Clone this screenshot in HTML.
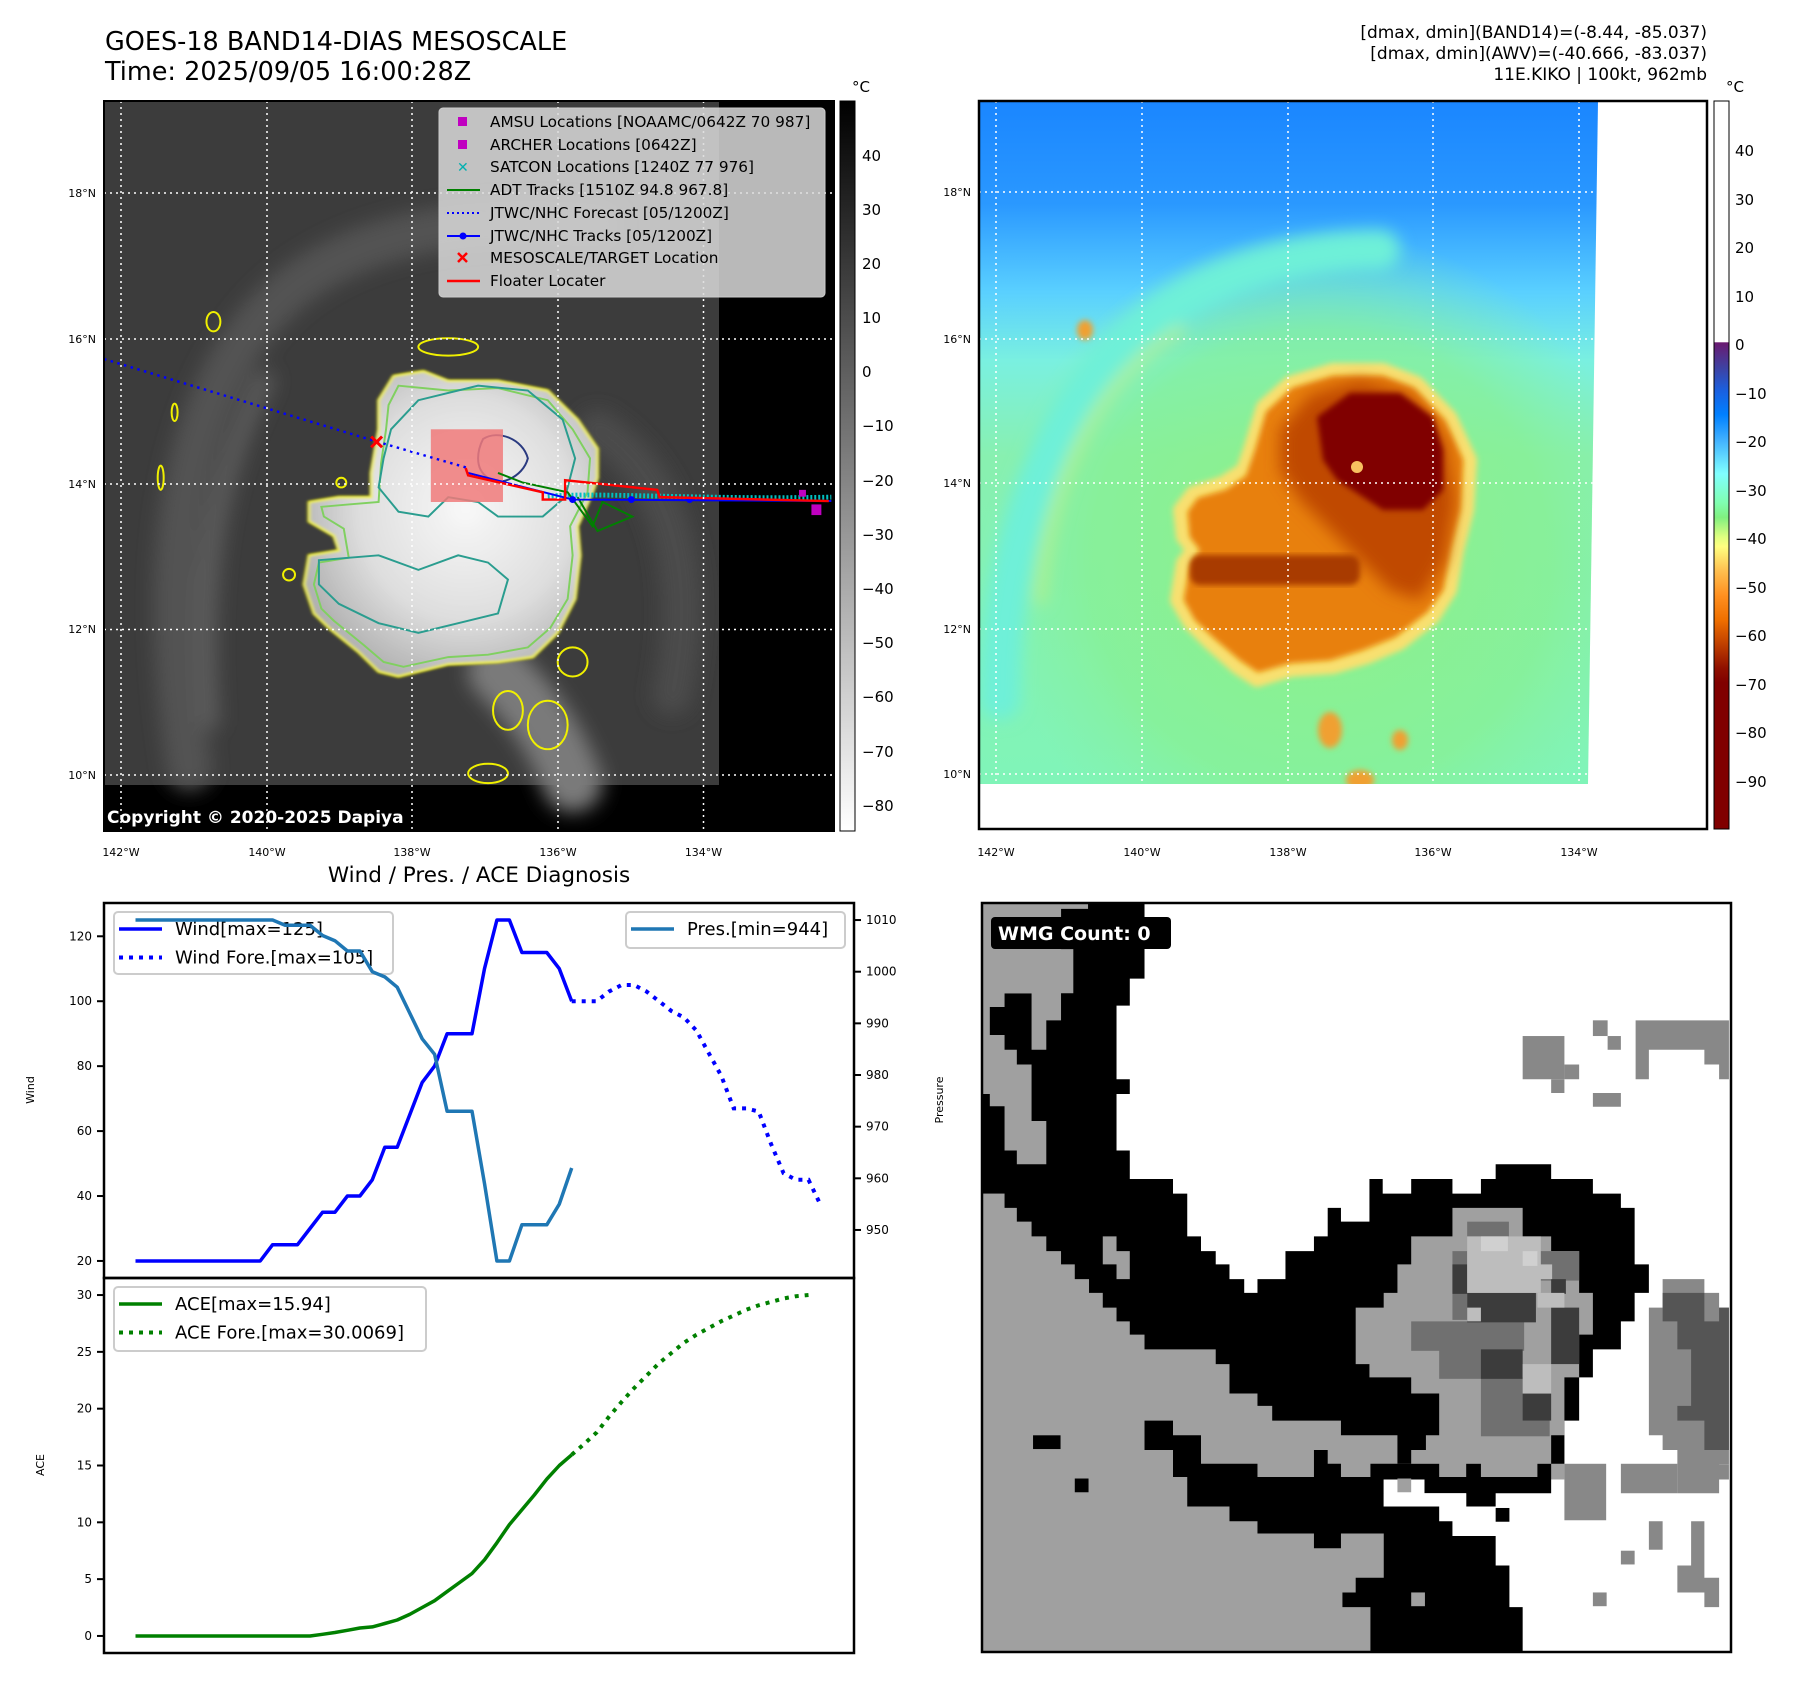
<!DOCTYPE html>
<html><head><meta charset="utf-8"><style>
html,body{margin:0;padding:0;background:#fff;}
svg text{font-family:"DejaVu Sans","Liberation Sans",sans-serif;}
</style></head><body>
<svg id="root" xmlns="http://www.w3.org/2000/svg" width="1797" height="1690" viewBox="0 0 1797 1690">
<defs>
<filter id="blur3"><feGaussianBlur stdDeviation="3"/></filter>
<filter id="blur8"><feGaussianBlur stdDeviation="8"/></filter>
<filter id="blur20"><feGaussianBlur stdDeviation="20"/></filter>
<radialGradient id="cloudG" cx="0.55" cy="0.45" r="0.6"><stop offset="0" stop-color="#f8f8f8"/><stop offset="0.6" stop-color="#dedede"/><stop offset="1" stop-color="#b0b0b0"/></radialGradient>
<linearGradient id="grayBar" x1="0" y1="0" x2="0" y2="1"><stop offset="0" stop-color="#000"/><stop offset="1" stop-color="#fff"/></linearGradient>
<linearGradient id="jetBar" x1="0" y1="0" x2="0" y2="1">
<stop offset="0" stop-color="#fff"/><stop offset="0.331" stop-color="#fff"/>
<stop offset="0.332" stop-color="#6a1a70"/><stop offset="0.365" stop-color="#4040a0"/>
<stop offset="0.398" stop-color="#1a60e0"/><stop offset="0.431" stop-color="#0080ff"/>
<stop offset="0.465" stop-color="#40b0ff"/><stop offset="0.512" stop-color="#80ffff"/>
<stop offset="0.552" stop-color="#80ffb0"/><stop offset="0.572" stop-color="#80f080"/>
<stop offset="0.599" stop-color="#e0ff80"/><stop offset="0.612" stop-color="#ffff80"/>
<stop offset="0.645" stop-color="#ffc050"/><stop offset="0.679" stop-color="#ff9020"/>
<stop offset="0.712" stop-color="#f07000"/><stop offset="0.746" stop-color="#c04000"/>
<stop offset="0.779" stop-color="#901000"/><stop offset="0.799" stop-color="#800000"/>
<stop offset="1" stop-color="#800000"/></linearGradient>
<linearGradient id="rbg" x1="0" y1="0" x2="0" y2="1">
<stop offset="0" stop-color="#1a86ff"/><stop offset="0.15" stop-color="#2a98ff"/>
<stop offset="0.28" stop-color="#5ad0ff"/><stop offset="0.38" stop-color="#7af0e0"/>
<stop offset="0.52" stop-color="#88f0b0"/><stop offset="1" stop-color="#80f4b8"/></linearGradient>
<radialGradient id="greenHalo" cx="0.5" cy="0.5" r="0.5"><stop offset="0" stop-color="#90f080" stop-opacity="1"/><stop offset="0.7" stop-color="#88f090" stop-opacity="0.8"/><stop offset="1" stop-color="#88f0a0" stop-opacity="0"/></radialGradient>
<clipPath id="clipL"><rect x="104" y="101" width="730" height="730"/></clipPath>
<clipPath id="clipR"><polygon points="979,101 1598,101 1588,784 979,784"/></clipPath>
</defs>

<text x="105" y="50" font-size="25.5">GOES-18 BAND14-DIAS MESOSCALE</text>
<text x="105" y="80" font-size="25.5">Time: 2025/09/05 16:00:28Z</text>
<g font-size="17" text-anchor="end">
<text x="1707" y="38">[dmax, dmin](BAND14)=(-8.44, -85.037)</text>
<text x="1707" y="59">[dmax, dmin](AWV)=(-40.666, -83.037)</text>
<text x="1707" y="80">11E.KIKO | 100kt, 962mb</text>
</g>

<g clip-path="url(#clipL)">
<rect x="104" y="101" width="730" height="730" fill="#000"/>
<rect x="104" y="101" width="615" height="684" fill="#3c3c3c"/>
<g transform="translate(100,90) scale(0.4975,0.4847)">
<g filter="url(#blur20)" fill="none" stroke-linecap="round">
<path d="M180,1400 C120,1000 160,700 300,500 C420,330 650,250 1000,280" stroke="#525252" stroke-width="90"/>
<path d="M220,1300 C200,1000 230,800 330,600" stroke="#5c5c5c" stroke-width="40"/>
<path d="M800,1200 C880,1280 920,1350 950,1430" stroke="#7a7a7a" stroke-width="120"/>
<path d="M1000,700 C1150,800 1200,1000 1150,1250" stroke="#4c4c4c" stroke-width="80"/>
</g>
<path id="stormShape" d="M590,590 L650,580 700,600 800,600 900,620 960,680 1000,740 1000,800 990,830 960,900 965,960 955,1050 920,1120 870,1170 800,1180 700,1185 600,1210 560,1200 520,1160 460,1110 430,1080 410,1020 420,960 480,950 470,920 420,890 420,850 480,840 545,840 545,790 560,700 560,640 Z" fill="url(#cloudG)" filter="url(#blur3)"/>
<use href="#stormShape" fill="none" stroke="#f0f000" stroke-width="5" filter="none"/>
<path d="M600,610 L700,620 800,615 900,640 950,700 985,760 980,830 945,900 950,960 940,1050 905,1110 860,1150 780,1165 700,1170 610,1190 570,1180 530,1145 470,1095 445,1070 430,1020 440,975 500,965 490,905 450,880 445,860 500,855 560,850 565,770 575,700 580,650 Z" fill="none" stroke="#80d060" stroke-width="4"/>
<path d="M585,700 L640,640 760,610 860,620 930,680 955,760 935,840 890,880 800,880 760,850 700,840 660,880 600,870 560,820 570,760 Z" fill="none" stroke="#2a9d8f" stroke-width="4"/>
<path d="M440,970 L560,960 640,990 720,960 780,975 820,1010 800,1080 720,1100 640,1120 560,1100 480,1060 440,1020 Z" fill="none" stroke="#2a9d8f" stroke-width="4"/>
<path d="M770,720 C800,700 850,720 860,760 C850,800 800,820 780,800 C750,780 760,740 770,720 Z" fill="none" stroke="#2a3a80" stroke-width="4"/>
<g fill="none" stroke="#f0f000" stroke-width="4">
<ellipse cx="228" cy="478" rx="14" ry="20"/><ellipse cx="150" cy="665" rx="6" ry="18"/>
<ellipse cx="122" cy="800" rx="6" ry="25"/><ellipse cx="700" cy="530" rx="60" ry="18"/>
<ellipse cx="820" cy="1280" rx="30" ry="40"/><ellipse cx="900" cy="1310" rx="40" ry="50"/>
<ellipse cx="780" cy="1410" rx="40" ry="20"/><ellipse cx="950" cy="1180" rx="30" ry="30"/>
<ellipse cx="380" cy="1000" rx="12" ry="12"/><ellipse cx="485" cy="810" rx="10" ry="10"/>
</g>
<rect x="665" y="700" width="145" height="150" fill="#f07a7a" opacity="0.85"/>
<path d="M8,555 L555,725 L740,780" fill="none" stroke="#0000ff" stroke-width="5" stroke-dasharray="5 9"/>
<path d="M900,838 C1000,830 1200,845 1470,840" fill="none" stroke="#00c0c0" stroke-width="10" stroke-dasharray="4 4"/>
<path d="M800,790 L850,810 940,830 990,900 1010,850 1070,880 1000,910 960,840" fill="none" stroke="#008000" stroke-width="4"/>
<path d="M740,790 L950,845 1470,848" fill="none" stroke="#0000ff" stroke-width="4"/>
<g fill="#0000ff"><circle cx="950" cy="845" r="7"/><circle cx="1068" cy="845" r="7"/><circle cx="1185" cy="845" r="7"/></g>
<path d="M735,780 L740,795 890,830 890,845 935,845 935,805 1120,825 1125,840 1465,848" fill="none" stroke="#ff0000" stroke-width="5"/>
<rect x="1430" y="855" width="20" height="22" fill="#c000c0"/><rect x="1405" y="825" width="14" height="14" fill="#c000c0"/>
<path d="M545,715 L567,737 M567,715 L545,737" stroke="#ff0000" stroke-width="6"/>
</g>
<g stroke="#fff" stroke-width="1.5" stroke-dasharray="2 4">
<line x1="121" y1="101" x2="121" y2="831"/><line x1="267" y1="101" x2="267" y2="831"/><line x1="412" y1="101" x2="412" y2="831"/><line x1="558" y1="101" x2="558" y2="831"/><line x1="703.5" y1="101" x2="703.5" y2="831"/>
<line x1="104" y1="193" x2="834" y2="193"/><line x1="104" y1="339" x2="834" y2="339"/><line x1="104" y1="484" x2="834" y2="484"/><line x1="104" y1="629.5" x2="834" y2="629.5"/><line x1="104" y1="775" x2="834" y2="775"/>
</g>
<text x="107" y="823" font-size="17" font-weight="bold" fill="#fff">Copyright © 2020-2025 Dapiya</text>
</g>
<rect x="104" y="101" width="730" height="730" fill="none" stroke="#000" stroke-width="2"/>
<g>
<rect x="439" y="108" width="386" height="189" rx="4" fill="#d9d9d9" fill-opacity="0.85" stroke="#ccc"/>
<g font-size="15.3">
<rect x="458" y="117" width="9" height="9" fill="#c000c0"/><text x="490" y="127">AMSU Locations [NOAAMC/0642Z 70 987]</text>
<rect x="458" y="140" width="9" height="9" fill="#c000c0"/><text x="490" y="150">ARCHER Locations [0642Z]</text>
<text x="457" y="172" fill="#00b0b0" font-size="14">✕</text><text x="490" y="172">SATCON Locations [1240Z 77 976]</text>
<line x1="447" y1="190" x2="480" y2="190" stroke="#008000" stroke-width="2"/><text x="490" y="195">ADT Tracks [1510Z 94.8 967.8]</text>
<line x1="447" y1="213" x2="480" y2="213" stroke="#0000ff" stroke-width="2" stroke-dasharray="2 3"/><text x="490" y="218">JTWC/NHC Forecast [05/1200Z]</text>
<line x1="447" y1="236" x2="480" y2="236" stroke="#0000ff" stroke-width="2"/><circle cx="463" cy="236" r="3.5" fill="#0000ff"/><text x="490" y="241">JTWC/NHC Tracks [05/1200Z]</text>
<path d="M458,253 L467,262 M467,253 L458,262" stroke="#ff0000" stroke-width="2.5"/><text x="490" y="263">MESOSCALE/TARGET Location</text>
<line x1="447" y1="281" x2="480" y2="281" stroke="#ff0000" stroke-width="2.5"/><text x="490" y="286">Floater Locater</text>
</g></g>
<rect x="840" y="101" width="15" height="730" fill="url(#grayBar)" stroke="#000" stroke-width="1"/>
<text x="852" y="92" font-size="15">°C</text>
<g font-size="15">
<text x="862" y="161">40</text><text x="862" y="215">30</text><text x="862" y="269">20</text><text x="862" y="323">10</text><text x="862" y="377">0</text>
<text x="862" y="431">−10</text><text x="862" y="486">−20</text><text x="862" y="540">−30</text><text x="862" y="594">−40</text><text x="862" y="648">−50</text><text x="862" y="702">−60</text><text x="862" y="757">−70</text><text x="862" y="811">−80</text>
</g>
<g font-size="11" text-anchor="middle">
<text x="121" y="856">142°W</text><text x="267" y="856">140°W</text><text x="412" y="856">138°W</text><text x="558" y="856">136°W</text><text x="703.5" y="856">134°W</text>
</g>
<g font-size="11" text-anchor="end">
<text x="96" y="197">18°N</text><text x="96" y="343">16°N</text><text x="96" y="488">14°N</text><text x="96" y="633">12°N</text><text x="96" y="779">10°N</text>
</g>

<g>
<rect x="979" y="101" width="728" height="728" fill="#fff"/>
<g clip-path="url(#clipR)">
<rect x="979" y="101" width="620" height="684" fill="url(#rbg)"/>
<ellipse cx="1320" cy="560" rx="330" ry="330" fill="url(#greenHalo)" opacity="0.85"/>
<g filter="url(#blur8)" fill="none" stroke-linecap="round">
<path d="M1000,700 C1000,500 1080,350 1200,290 C1260,260 1330,250 1380,250" stroke="#6ef0d8" stroke-width="40"/>
<path d="M1040,600 C1050,460 1110,370 1180,330" stroke="#c0f080" stroke-width="10" opacity="0.8"/>
</g>
<polygon points="1250,450 1263,407 1290,383 1333,370 1383,370 1417,383 1450,417 1470,460 1467,510 1457,550 1450,590 1433,617 1400,643 1367,657 1333,667 1290,670 1257,680 1237,667 1210,643 1190,623 1177,600 1183,563 1193,550 1183,537 1180,510 1193,493 1223,483 1243,470" fill="#f8d050" stroke="#f8e070" stroke-width="14" stroke-linejoin="round" filter="url(#blur3)"/>
<polygon points="1255,450 1266,412 1292,388 1333,376 1383,376 1414,388 1445,420 1463,460 1460,510 1450,550 1443,590 1427,612 1395,637 1362,650 1330,660 1290,663 1258,672 1240,660 1214,638 1195,620 1184,600 1190,566 1200,550 1190,537 1188,512 1198,498 1226,490 1246,476" fill="#e88010" filter="url(#blur3)"/>
<polygon points="1280,430 1310,395 1360,380 1410,395 1445,440 1455,500 1445,560 1420,600 1390,590 1360,560 1330,530 1300,500 1280,470" fill="#c04a00" filter="url(#blur8)"/>
<polygon points="1317,417 1350,393 1400,393 1433,417 1443,450 1443,490 1423,510 1383,510 1357,493 1337,480 1323,460" fill="#800000" filter="url(#blur3)"/>
<rect x="1190" y="555" width="170" height="30" rx="10" fill="#a83a00" filter="url(#blur3)"/>
<circle cx="1357" cy="467" r="6" fill="#f8c060"/>
<g fill="#f0a030" filter="url(#blur3)"><ellipse cx="1330" cy="730" rx="12" ry="18"/><ellipse cx="1400" cy="740" rx="8" ry="10"/><ellipse cx="1360" cy="780" rx="14" ry="10"/><ellipse cx="1085" cy="330" rx="8" ry="10"/></g>
</g>
<g stroke="#fff" stroke-width="1.5" stroke-dasharray="2 4">
<line x1="996" y1="101" x2="996" y2="784"/><line x1="1142" y1="101" x2="1142" y2="784"/><line x1="1288" y1="101" x2="1288" y2="784"/><line x1="1433" y1="101" x2="1433" y2="784"/><line x1="1579" y1="101" x2="1579" y2="784"/>
<line x1="979" y1="192" x2="1598" y2="192"/><line x1="979" y1="339" x2="1596" y2="339"/><line x1="979" y1="483" x2="1594" y2="483"/><line x1="979" y1="629" x2="1592" y2="629"/><line x1="979" y1="774" x2="1590" y2="774"/>
</g>
</g>
<rect x="979" y="101" width="728" height="728" fill="none" stroke="#000" stroke-width="2.5"/>
<rect x="1714" y="101" width="15" height="728" fill="url(#jetBar)" stroke="#000" stroke-width="1"/>
<text x="1726" y="92" font-size="15">°C</text>
<g font-size="15">
<text x="1735" y="156">40</text><text x="1735" y="205">30</text><text x="1735" y="253">20</text><text x="1735" y="302">10</text><text x="1735" y="350">0</text>
<text x="1735" y="399">−10</text><text x="1735" y="447">−20</text><text x="1735" y="496">−30</text><text x="1735" y="544">−40</text><text x="1735" y="593">−50</text><text x="1735" y="641">−60</text><text x="1735" y="690">−70</text><text x="1735" y="738">−80</text><text x="1735" y="787">−90</text>
</g>
<g font-size="11" text-anchor="middle">
<text x="996" y="856">142°W</text><text x="1142" y="856">140°W</text><text x="1288" y="856">138°W</text><text x="1433" y="856">136°W</text><text x="1579" y="856">134°W</text>
</g>
<g font-size="11" text-anchor="end">
<text x="971" y="196">18°N</text><text x="971" y="343">16°N</text><text x="971" y="487">14°N</text><text x="971" y="633">12°N</text><text x="971" y="778">10°N</text>
</g>

<g>
<rect x="982" y="903" width="749" height="749" fill="#fff"/>
<g transform="translate(980,900) scale(0.4911)">
<polygon fill="#a0a0a0" points="5,598 50,598 400,900 600,900 900,1000 1190,1000 1190,1180 822,1180 822,1530 5,1530"/>
<polygon fill="#000" points="165,5 335,5 335,160 305,160 305,215 278,215 278,365 305,365 305,395 278,395 278,510 305,510 305,568 393,568 393,598 422,598 422,685 450,685 450,715 480,715 480,742 508,742 508,772 538,772 538,800 565,800 565,772 622,772 622,715 680,715 680,685 708,685 708,627 735,627 735,655 793,655 793,568 820,568 820,598 878,598 878,568 962,568 962,598 1020,598 1020,568 1050,568 1050,538 1163,538 1163,568 1248,568 1248,598 1305,598 1305,627 1333,627 1333,742 1362,742 1362,800 1333,800 1333,858 1305,858 1305,915 1248,915 1248,972 1220,972 1220,1060 1190,1060 1190,1148 850,1148 850,1090 735,1090 735,1060 595,1060 595,1030 565,1030 565,1005 508,1005 508,945 480,945 480,915 335,915 335,885 305,885 305,858 278,858 278,830 250,830 250,800 222,800 222,772 193,772 193,742 165,742 165,715 135,715 135,685 105,685 105,655 75,655 75,627 50,627 50,598 5,598 5,190 165,190"/>
<polygon fill="#a0a0a0" points="5,5 220,5 220,18 165,18 165,100 190,100 190,190 165,190 165,245 135,245 135,305 105,305 105,190 50,190 50,218 20,218 20,275 50,275 50,305 75,305 75,335 105,335 105,450 135,450 135,538 75,538 75,510 50,510 50,420 20,420 20,395 5,395"/>
<polygon fill="#a0a0a0" points="250,685 278,685 278,715 305,715 305,772 278,772 278,742 250,742"/>
<polygon fill="#000" points="335,1060 393,1060 393,1090 450,1090 450,1148 565,1148 565,1175 680,1175 680,1120 708,1120 708,1148 735,1148 735,1175 795,1175 795,1148 1163,1148 1163,1208 1050,1208 1050,1235 990,1235 990,1208 905,1208 905,1180 822,1180 822,1235 935,1235 935,1265 962,1265 962,1295 1050,1295 1050,1355 1078,1355 1078,1440 1105,1440 1105,1530 795,1530 795,1440 738,1440 738,1410 765,1410 765,1380 822,1380 822,1290 735,1290 735,1320 680,1320 680,1290 565,1290 565,1265 508,1265 508,1235 422,1235 422,1175 393,1175 393,1120 335,1120"/>
<rect x="822" y="1180" width="83" height="28" fill="#fff"/><rect x="822" y="1208" width="168" height="27" fill="#fff"/>
<rect x="108" y="1090" width="56" height="28" fill="#000"/><rect x="193" y="1178" width="28" height="28" fill="#000"/>
<rect x="850" y="1178" width="28" height="28" fill="#a0a0a0"/><rect x="878" y="1410" width="28" height="28" fill="#a0a0a0"/><rect x="1050" y="1238" width="28" height="28" fill="#000"/>
<polygon fill="#a0a0a0" points="962,627 1105,627 1105,685 1163,685 1163,715 1220,715 1220,800 1248,800 1248,885 1220,885 1220,972 1190,972 1190,1090 1163,1090 1163,1148 1135,1148 1135,1175 1020,1175 1020,1148 990,1148 990,1175 935,1175 935,1148 878,1148 878,1120 908,1120 908,1090 935,1090 935,1005 878,1005 878,972 793,972 793,945 765,945 765,830 822,830 822,800 850,800 850,742 878,742 878,685 962,685"/>
<g fill="#707070"><rect x="992" y="655" width="85" height="30"/><rect x="878" y="858" width="230" height="60"/><rect x="935" y="915" width="140" height="60"/><rect x="1020" y="972" width="140" height="120"/><rect x="962" y="715" width="30" height="140"/><rect x="1135" y="715" width="85" height="60"/></g>
<g fill="#3c3c3c"><rect x="962" y="742" width="30" height="60"/><rect x="992" y="800" width="140" height="60"/><rect x="1020" y="915" width="85" height="60"/><rect x="1163" y="830" width="57" height="115"/><rect x="1105" y="1005" width="58" height="55"/><rect x="1163" y="772" width="30" height="30"/></g>
<g fill="#bdbdbd"><rect x="992" y="685" width="150" height="115"/><rect x="1135" y="742" width="30" height="30"/><rect x="1135" y="800" width="55" height="30"/><rect x="1105" y="945" width="58" height="60"/><rect x="992" y="830" width="28" height="28"/></g>
<g fill="#d0d0d0"><rect x="1020" y="685" width="55" height="30"/><rect x="1105" y="715" width="30" height="30"/></g>
<g fill="#888"><rect x="1105" y="277" width="85" height="88"/><rect x="1190" y="335" width="30" height="30"/><rect x="1163" y="365" width="27" height="28"/><rect x="1248" y="245" width="30" height="32"/><rect x="1278" y="277" width="27" height="28"/><rect x="1248" y="393" width="57" height="28"/>
<polygon points="1335,245 1525,245 1525,365 1505,365 1505,335 1475,335 1475,305 1362,305 1362,365 1335,365"/>
<polygon points="1362,830 1390,830 1390,772 1475,772 1475,800 1505,800 1505,830 1525,830 1525,1150 1505,1150 1505,1208 1475,1208 1475,1380 1505,1380 1505,1440 1475,1440 1475,1410 1420,1410 1420,1355 1448,1355 1448,1265 1475,1265 1475,1208 1420,1208 1420,1120 1390,1120 1390,1090 1362,1090"/>
<rect x="1190" y="1148" width="85" height="115"/><rect x="1305" y="1148" width="115" height="60"/><rect x="1362" y="1265" width="28" height="58"/><rect x="1305" y="1325" width="28" height="28"/><rect x="1248" y="1410" width="28" height="28"/><rect x="1475" y="1150" width="50" height="30"/></g>
<g fill="#555"><polygon points="1390,800 1475,800 1475,858 1505,858 1505,830 1525,830 1525,1120 1475,1120 1475,1060 1420,1060 1420,1030 1448,1030 1448,915 1420,915 1420,858 1390,858"/></g>
</g>
<rect x="982" y="903" width="749" height="749" fill="none" stroke="#000" stroke-width="2.5"/>
<rect x="991" y="917" width="180" height="32" rx="4" fill="#000"/>
<text x="998" y="940" font-size="19" font-weight="bold" fill="#fff">WMG Count: 0</text>
</g>

<text x="479" y="882" font-size="21.5" text-anchor="middle">Wind / Pres. / ACE Diagnosis</text>
<g id="chart"></g>
</svg>
<script>
const windObs = [20,20,20,20,20,20,20,20,20,20,20,25,25,25,30,35,35,40,40,45,55,55,65,75,80,90,90,90,110,125,125,115,115,115,110,100];
const windFore = [100,100,100,103,105,105,103,100,97,95,91,84,77,67,67,66,56,47,45,45,37];
const presObs = [1010,1010,1010,1010,1010,1010,1010,1010,1010,1010,1010,1010,1009,1009,1009,1007,1006,1004,1004,1000,999,997,992,987,984,973,973,973,959,944,944,951,951,951,955,962];
const aceObs = [0,0,0,0,0,0,0,0,0,0,0,0,0,0,0,0.15,0.3,0.5,0.7,0.8,1.1,1.4,1.9,2.5,3.1,3.9,4.7,5.5,6.7,8.2,9.8,11.1,12.4,13.8,15.0,15.94];
const aceFore = [15.94,16.9,17.9,19.3,20.6,21.8,22.9,24.0,24.9,25.8,26.5,27.1,27.7,28.2,28.7,29.1,29.4,29.7,29.9,30.0];
const windTicks = [20,40,60,80,100,120];
const presTicks = [950,960,970,980,990,1000,1010];
const aceTicks = [0,5,10,15,20,25,30];
const legendWind = ["Wind[max=125]","Wind Fore.[max=105]"];
const legendPres = ["Pres.[min=944]"];
const legendAce = ["ACE[max=15.94]","ACE Fore.[max=30.0069]"];

const NS="http://www.w3.org/2000/svg";
const chart=document.getElementById('chart');
const AX={l:104,r:854,t1:903,b1:1278,t2:1278,b2:1653};
const X0=-2.53,X1=57.65;
function xs(i){return AX.l+(i-X0)/(X1-X0)*(AX.r-AX.l);}
function yWind(v){const lo=14.75,hi=130.25;return AX.t1+(hi-v)/(hi-lo)*(AX.b1-AX.t1);}
function yPres(p){const lo=940.7,hi=1013.3;return AX.t1+(hi-p)/(hi-lo)*(AX.b1-AX.t1);}
function yAce(a){const lo=-1.5,hi=31.5;return AX.t2+(hi-a)/(hi-lo)*(AX.b2-AX.t2);}
function mk(tag,attrs,parent){const e=document.createElementNS(NS,tag);for(const k in attrs)e.setAttribute(k,attrs[k]);(parent||chart).appendChild(e);return e;}
function pathFrom(arr,start,yf){return arr.map((v,j)=>(j?'L':'M')+xs(start+j).toFixed(1)+','+yf(v).toFixed(1)).join(' ');}

let e;
e=mk('rect',{x:AX.l,y:AX.t1,width:AX.r-AX.l,height:AX.b2-AX.t1,fill:'#fff'});



windTicks.forEach(v=>{const y=yWind(v);
 e=mk('line',{x1:AX.l-7,x2:AX.l,y1:y,y2:y,stroke:'#000','stroke-width':2});
 
 
 e=mk('text',{x:AX.l-12,y:y+4,'font-size':12,'text-anchor':'end'});e.textContent=v;
 
 
});
presTicks.forEach(v=>{const y=yPres(v);
 e=mk('line',{x1:AX.r,x2:AX.r+7,y1:y,y2:y,stroke:'#000','stroke-width':2});
 
 
 e=mk('text',{x:AX.r+12,y:y+4,'font-size':12});e.textContent=v;
 
 
});
aceTicks.forEach(v=>{const y=yAce(v);
 e=mk('line',{x1:AX.l-7,x2:AX.l,y1:y,y2:y,stroke:'#000','stroke-width':2});
 
 
 e=mk('text',{x:AX.l-12,y:y+4,'font-size':12,'text-anchor':'end'});e.textContent=v;
 
 
});
e=mk('text',{x:0,y:0,'font-size':11,'text-anchor':'middle',transform:'translate(34,1090) rotate(-90)'});e.textContent='Wind';


e=mk('text',{x:0,y:0,'font-size':11,'text-anchor':'middle',transform:'translate(943,1100) rotate(-90)'});e.textContent='Pressure';


e=mk('text',{x:0,y:0,'font-size':11,'text-anchor':'middle',transform:'translate(44,1465) rotate(-90)'});e.textContent='ACE';



function legend(x,y,w,h,items,name){
 const g=mk('g',{});
 
 
 mk('rect',{x:x,y:y,width:w,height:h,rx:4,fill:'#fff','fill-opacity':0.8,stroke:'#ccc','stroke-width':2},g);
 items.forEach((it,k)=>{const cy=y+17+k*28.5;
  const ln=mk('line',{x1:x+5,x2:x+48,y1:cy,y2:cy,stroke:it.c,'stroke-width':it.d?4:3.5},g);
  if(it.d)ln.setAttribute('stroke-dasharray','4 6');
  const t=mk('text',{x:x+61,y:cy+6,'font-size':18},g);t.textContent=it.t;});
}

e=mk('path',{d:pathFrom(windObs,0,yWind),fill:'none',stroke:'#0000ff','stroke-width':3.5,'stroke-linejoin':'round'});


e=mk('path',{d:pathFrom(windFore,windObs.length-1,yWind),fill:'none',stroke:'#0000ff','stroke-width':4,'stroke-dasharray':'4 6'});


legend(114,912,279,62,[{t:legendWind[0],c:'#0000ff'},{t:legendWind[1],c:'#0000ff',d:1}],'wind-legend');
e=mk('path',{d:pathFrom(presObs,0,yPres),fill:'none',stroke:'#1f77b4','stroke-width':3.5,'stroke-linejoin':'round'});


legend(626,912,219,36,[{t:legendPres[0],c:'#1f77b4'}],'pressure-legend');
e=mk('path',{d:pathFrom(aceObs,0,yAce),fill:'none',stroke:'#008000','stroke-width':3.5,'stroke-linejoin':'round'});


e=mk('path',{d:pathFrom(aceFore,aceObs.length-1,yAce),fill:'none',stroke:'#008000','stroke-width':4,'stroke-dasharray':'4 6'});


legend(114,1287,312,64,[{t:legendAce[0],c:'#008000'},{t:legendAce[1],c:'#008000',d:1}],'ace-legend');

e=mk('rect',{x:AX.l,y:AX.t1,width:AX.r-AX.l,height:AX.b1-AX.t1,fill:'none',stroke:'#000','stroke-width':2.5});


e=mk('rect',{x:AX.l,y:AX.t2,width:AX.r-AX.l,height:AX.b2-AX.t2,fill:'none',stroke:'#000','stroke-width':2.5});


</script>
</body></html>
